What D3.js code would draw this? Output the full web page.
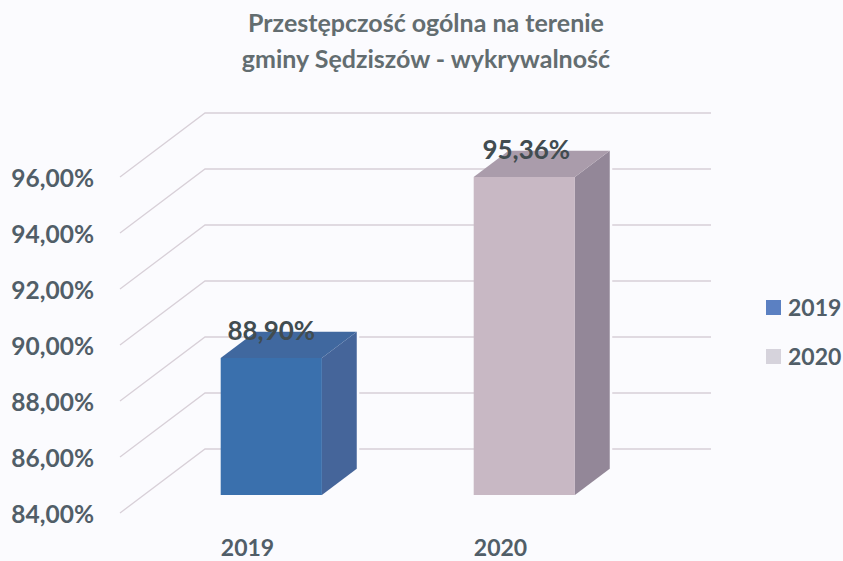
<!DOCTYPE html>
<html lang="pl">
<head>
<meta charset="utf-8">
<script src="https://cdn.jsdelivr.net/npm/d3@7/dist/d3.min.js"></script>
<style>
html,body{margin:0;padding:0;background:#fbfbfe;}
svg{display:block;}
text{font-family:Lato,"Open Sans",sans-serif;}
</style>
</head>
<body>
<svg id="chart" width="843" height="561"></svg>
<script>
const categories = ["2019", "2020"];
const values = [88.90, 95.36];
const valueLabels = ["88,90%", "95,36%"];
const yTicks = [84, 86, 88, 90, 92, 94, 96];
const titleLines = ["Przestępczość ogólna na terenie", "gminy Sędziszów - wykrywalność"];
const frontColors = ["#3a70ad", "#c8b8c4"];
const topColors = ["#40689f", "#aa9cab"];
const sideColors = ["#45659a", "#938798"];
const legendColors = ["#5b80c2", "#d6d3dc"];

const svg = d3.select("#chart");

const y = d3.scaleLinear().domain([84, 96]).range([513, 177]);
const x = d3.scaleBand().domain(categories).range([121, 627]).paddingInner(0.6).paddingOuter(0.3);
const gridX = d3.scaleLinear().domain([0, 1]).range([120, 626]);
const depthX = d3.scaleLinear().domain([0, 1]).range([0, 85]);
const depthY = d3.scaleLinear().domain([0, 1]).range([0, -64]);
const barDepth = [0.28, 0.69];

const px = (xv, d) => xv + depthX(d);
const py = (v, d) => y(v) + depthY(d);
const poly = pts => pts.map(p => p.join(",")).join(" ");

// Title
svg.append("g").selectAll("text").data(titleLines).join("text")
  .attr("x", 426).attr("y", (d, i) => 32 + i * 36)
  .attr("text-anchor", "middle")
  .attr("font-size", 25).attr("font-weight", 700).attr("fill", "#636d70")
  .text(d => d);

// Grid: front-left edge running back, then along the back wall
const grid = svg.append("g").attr("fill", "none").attr("stroke", "#d8d0d8").attr("stroke-width", 1.3);
grid.selectAll("polyline").data(yTicks).join("polyline")
  .attr("points", d => poly([[gridX(0), y(d)], [px(gridX(0), 1), py(d, 1)], [px(gridX(1), 1), py(d, 1)]]));

// Y tick labels
svg.append("g").selectAll("text").data(yTicks).join("text")
  .attr("x", 94).attr("y", d => y(d) + 10)
  .attr("text-anchor", "end")
  .attr("font-size", 24.5).attr("font-weight", 700).attr("fill", "#515e68")
  .text(d => d.toFixed(2).replace(".", ",") + "%");

// Bars
const bars = svg.append("g").selectAll("g").data(categories).join("g");
const [d0, d1] = barDepth;
const bw = x.bandwidth();
bars.append("polygon")
  .attr("fill", "#fbfbfe").attr("stroke", "#fbfbfe").attr("stroke-width", 5)
  .attr("points", (c, i) => poly([
    [px(x(c) + bw, d0), py(values[i], d0)], [px(x(c) + bw, d1), py(values[i], d1)],
    [px(x(c) + bw, d1), py(84, d1)], [px(x(c) + bw, d0), py(84, d0)]]));
bars.append("polygon").attr("fill", (c, i) => sideColors[i])
  .attr("points", (c, i) => poly([
    [px(x(c) + bw, d0), py(values[i], d0)], [px(x(c) + bw, d1), py(values[i], d1)],
    [px(x(c) + bw, d1), py(84, d1)], [px(x(c) + bw, d0), py(84, d0)]]));
bars.append("polygon").attr("fill", (c, i) => topColors[i])
  .attr("points", (c, i) => poly([
    [px(x(c), d0), py(values[i], d0)], [px(x(c), d1), py(values[i], d1)],
    [px(x(c) + bw, d1), py(values[i], d1)], [px(x(c) + bw, d0), py(values[i], d0)]]));
bars.append("polygon").attr("fill", (c, i) => frontColors[i])
  .attr("points", (c, i) => poly([
    [px(x(c), d0), py(values[i], d0)], [px(x(c) + bw, d0), py(values[i], d0)],
    [px(x(c) + bw, d0), py(84, d0)], [px(x(c), d0), py(84, d0)]]));

// Value labels
bars.append("text")
  .attr("x", (c, i) => px(x(c) + bw / 2, d0) + (i ? 2 : 0))
  .attr("y", (c, i) => py(values[i], d0) - 18)
  .attr("text-anchor", "middle")
  .attr("font-size", 26).attr("font-weight", 700).attr("fill", "#414c50")
  .text((c, i) => valueLabels[i]);

// Category labels
svg.append("g").selectAll("text").data(categories).join("text")
  .attr("x", c => x(c) + bw / 2).attr("y", 556)
  .attr("text-anchor", "middle")
  .attr("font-size", 23).attr("font-weight", 700).attr("fill", "#515e68")
  .text(c => c);

// Legend
const legend = svg.append("g").selectAll("g").data(categories).join("g")
  .attr("transform", (c, i) => `translate(766,${300 + i * 49})`);
legend.append("rect").attr("width", 15).attr("height", 15).attr("fill", (c, i) => legendColors[i]);
legend.append("text").attr("x", 22).attr("y", 16)
  .attr("font-size", 23).attr("font-weight", 700).attr("fill", "#515e68")
  .text(c => c);
</script>
</body>
</html>
